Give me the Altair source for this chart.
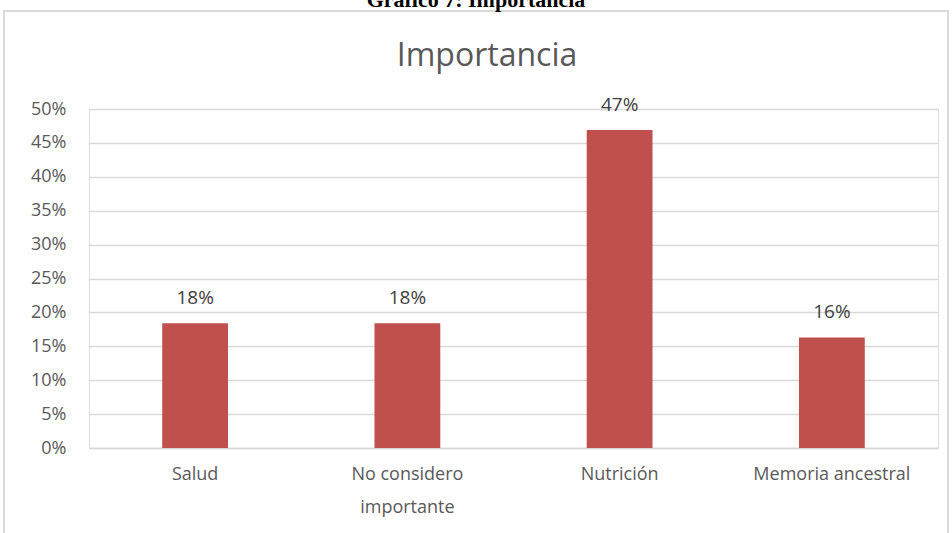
import altair as alt
import pandas as pd

categories = ["Salud", "No considero importante", "Nutrición", "Memoria ancestral"]
values = [0.184, 0.184, 0.469, 0.163]
y_ticks = [0, 0.05, 0.10, 0.15, 0.20, 0.25, 0.30, 0.35, 0.40, 0.45, 0.50]
chart_title = "Importancia"
header = "Gráfico 7:  Importancia"

df = pd.DataFrame({"cat": categories, "val": values})

W, H = 849, 339
PL, PT, PR, PB = 89, 109, 14, 85

base = alt.Chart(df)

x_enc = alt.X(
    "cat:N", sort=categories, title=None,
    scale=alt.Scale(paddingInner=0.69, paddingOuter=0.345),
    axis=alt.Axis(
        labelAngle=0, labelFont="Open Sans", labelFontSize=18, labelColor="#595959",
        labelPadding=17, labelLineHeight=33, ticks=False, domainColor="#D9D9D9",
        domainWidth=1.5, grid=False,
        labelExpr="datum.value == 'No considero importante' ? ['No considero', 'importante'] : datum.value",
    ),
)
y_enc = alt.Y(
    "val:Q", title=None,
    scale=alt.Scale(domain=[0, 0.5], nice=False),
    axis=alt.Axis(
        values=y_ticks, format=".0%", labelFont="Open Sans", labelFontSize=18,
        labelColor="#595959", labelPadding=23, ticks=False, domain=False,
        gridColor="#D9D9D9", gridWidth=1.5, labelOverlap=False,
    ),
)

bars = base.mark_bar(color="#C0504D").encode(x=x_enc, y=y_enc)
labels = base.mark_text(
    font="Open Sans", fontSize=19, color="#404040", baseline="bottom", dy=-15
).encode(x=x_enc, y=y_enc, text=alt.Text("val:Q", format=".0%"))

deco = pd.DataFrame({"t": [chart_title]})
title_mark = alt.Chart(deco).mark_text(
    font="Open Sans", fontSize=32, color="#595959", align="center", baseline="alphabetic"
).encode(text="t:N", x=alt.value(487 - PL), y=alt.value(66 - PT))

hdr = pd.DataFrame({"t": [header]})
header_mark = alt.Chart(hdr).mark_text(
    font="Liberation Serif", fontSize=22, fontWeight="bold", color="#000000",
    align="center", baseline="alphabetic"
).encode(text="t:N", x=alt.value(476 - PL), y=alt.value(7 - PT))

border = alt.Chart(hdr).mark_rect(
    fill=None, stroke="#D9D9D9", strokeWidth=2
).encode(
    x=alt.value(4 - PL), x2=alt.value(948 - PL),
    y=alt.value(11 - PT), y2=alt.value(560 - PT),
)

chart = alt.layer(border, header_mark, title_mark, bars, labels).properties(
    width=W, height=H,
    autosize=alt.AutoSizeParams(type="none"),
    padding={"left": PL, "top": PT, "right": PR, "bottom": PB},
).configure_view(stroke=None).configure(background="white")

chart.save("out.html", embed_options={"renderer": "svg", "actions": False})
